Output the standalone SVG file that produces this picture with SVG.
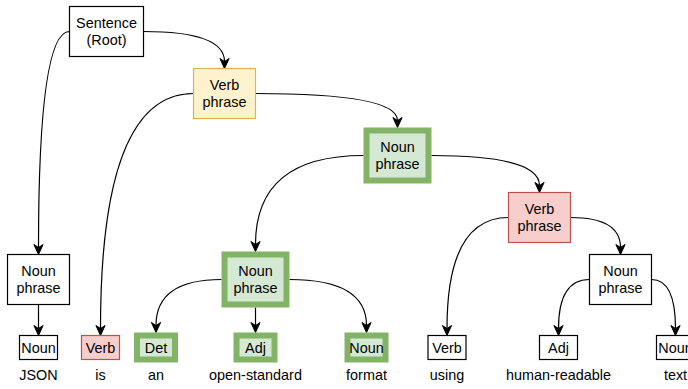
<svg xmlns="http://www.w3.org/2000/svg" width="688" height="389" viewBox="0 0 688 389">
<style>
text{font-family:"Liberation Sans",Arial,sans-serif;font-size:14.4px;fill:#000;text-anchor:middle}
.w{fill:#fff;stroke:#000;stroke-width:1.2}
.y{fill:#fff2cc;stroke:#d6b656;stroke-width:1.2}
.r{fill:#f8cecc;stroke:#b85450;stroke-width:1.2}
.g{fill:#d5e8d4;stroke:#82b366;stroke-width:6}
.e{fill:none;stroke:#000;stroke-width:1.2;marker-end:url(#arr)}
</style>
<defs>
<marker id="arr" markerUnits="userSpaceOnUse" markerWidth="12" markerHeight="10" refX="-7" refY="0" orient="auto" overflow="visible">
<path d="M0,0 L-10,-4.6 L-7,0 L-10,4.6 Z" fill="#000" stroke="#000" stroke-width="1"/>
</marker>
</defs>
<rect width="688" height="389" fill="#fff"/>
<g id="connectors">
<path class="e" d="M69.5,31.5 Q38.5,31.5 38.5,247.5"/>
<path class="e" d="M143.5,31.5 Q224.5,31.5 224.5,61.5"/>
<path class="e" d="M193.5,93.5 Q100.5,93.5 100.5,328.5"/>
<path class="e" d="M255.5,93.5 Q397.5,93.5 397.5,120.5"/>
<path class="e" d="M431.5,155.5 Q539.5,155.5 539.5,185.5"/>
<path class="e" d="M363.5,155.5 Q255.5,155.5 255.5,244.5"/>
<path class="e" d="M508.5,217.5 Q447,217.5 447,328.5"/>
<path class="e" d="M570.5,217.5 Q620.5,217.5 620.5,247.5"/>
<path class="e" d="M221.5,279.5 Q156,279.5 156,325.5"/>
<path class="e" d="M255.5,307.5 L255.5,325.5"/>
<path class="e" d="M289.5,279.5 Q366.5,279.5 366.5,325.5"/>
<path class="e" d="M38.5,304.5 L38.5,328.5"/>
<path class="e" d="M589.5,279.5 Q558.5,279.5 558.5,328.5"/>
<path class="e" d="M651.5,279.5 Q675.5,279.5 675.5,328.5"/>
</g>
<g id="sentence"><rect class="w" x="69.5" y="6.5" width="74" height="50"/><text x="106.5" y="28">Sentence</text><text x="106.5" y="45.3">(Root)</text></g>
<g id="vp1"><rect class="y" x="193.5" y="68.5" width="62" height="50"/><text x="224.5" y="90">Verb</text><text x="224.5" y="107.3">phrase</text></g>
<g id="np1"><rect class="g" x="366.5" y="130.5" width="62" height="50"/><text x="397.5" y="152">Noun</text><text x="397.5" y="169.3">phrase</text></g>
<g id="vp2"><rect class="r" x="508.5" y="192.5" width="62" height="50"/><text x="539.5" y="214">Verb</text><text x="539.5" y="231.3">phrase</text></g>
<g id="np-json"><rect class="w" x="7.5" y="254.5" width="62" height="50"/><text x="38.5" y="276">Noun</text><text x="38.5" y="293.3">phrase</text></g>
<g id="np2"><rect class="g" x="224.5" y="254.5" width="62" height="50"/><text x="255.5" y="276">Noun</text><text x="255.5" y="293.3">phrase</text></g>
<g id="np3"><rect class="w" x="589.5" y="254.5" width="62" height="50"/><text x="620.5" y="276">Noun</text><text x="620.5" y="293.3">phrase</text></g>
<g id="w-json"><rect class="w" x="19.5" y="335.5" width="38" height="24"/><text x="38.5" y="352.5">Noun</text><text x="38.5" y="380">JSON</text></g>
<g id="w-is"><rect class="r" x="81.5" y="335.5" width="38" height="24"/><text x="100.5" y="352.5">Verb</text><text x="100.5" y="380">is</text></g>
<g id="w-an"><rect class="g" x="137" y="335.5" width="38" height="24"/><text x="156" y="352.5">Det</text><text x="156" y="380">an</text></g>
<g id="w-open"><rect class="g" x="236.5" y="335.5" width="38" height="24"/><text x="255.5" y="352.5">Adj</text><text x="255.5" y="380">open-standard</text></g>
<g id="w-format"><rect class="g" x="347.5" y="335.5" width="38" height="24"/><text x="366.5" y="352.5">Noun</text><text x="366.5" y="380">format</text></g>
<g id="w-using"><rect class="w" x="428" y="335.5" width="38" height="24"/><text x="447" y="352.5">Verb</text><text x="447" y="380">using</text></g>
<g id="w-human"><rect class="w" x="539.5" y="335.5" width="38" height="24"/><text x="558.5" y="352.5">Adj</text><text x="558.5" y="380">human-readable</text></g>
<g id="w-text"><rect class="w" x="656.5" y="335.5" width="38" height="24"/><text x="675.5" y="352.5">Noun</text><text x="675.5" y="380">text</text></g>
</svg>
